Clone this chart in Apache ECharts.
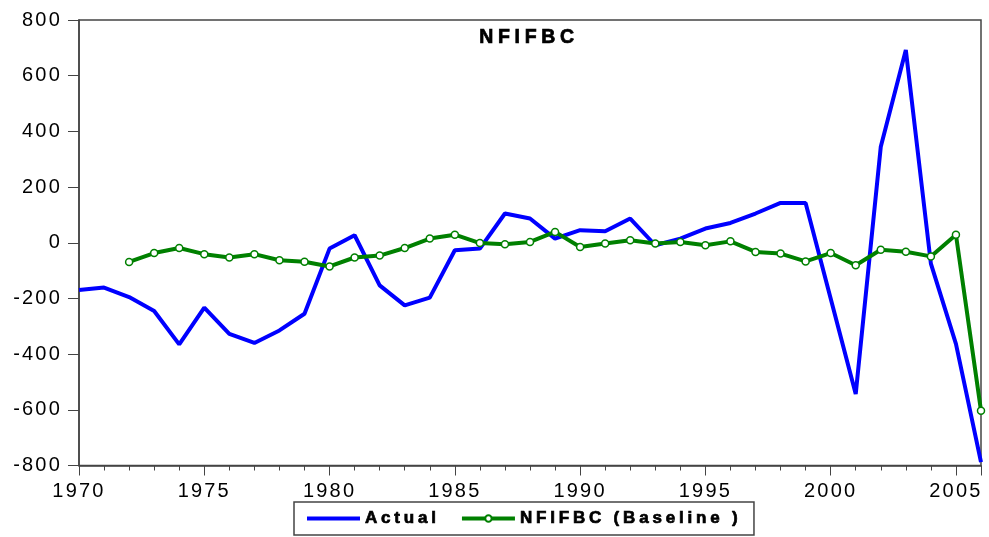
<!DOCTYPE html>
<html><head><meta charset="utf-8">
<script src="https://cdn.jsdelivr.net/npm/echarts@6/dist/echarts.min.js"></script>
<style>html,body{margin:0;padding:0;background:#fff}#c{width:989px;height:537px}</style>
</head><body><div id="c"></div>
<script>
const years = [1970,1971,1972,1973,1974,1975,1976,1977,1978,1979,1980,1981,1982,1983,1984,1985,1986,1987,1988,1989,1990,1991,1992,1993,1994,1995,1996,1997,1998,1999,2000,2001,2002,2003,2004,2005,2006];
const actual = [-170,-161,-195,-245,-365,-233,-327,-360,-315,-255,-21,27,-153,-225,-197,-27,-21,105,87,15,45,41,87,-9,15,51,71,105,143,143,-200,-543,345,692,-75,-363,-788];
const baseline = [null,null,-69,-37,-19,-41,-53,-41,-63,-68,-85,-53,-46,-19,15,29,-1,-5,3,39,-15,-3,9,-3,3,-9,5,-33,-39,-67,-37,-81,-25,-32,-49,29,-603];
const yTicks = [-800,-600,-400,-200,0,200,400,600,800];
const titleText = 'NFIFBC';
const seriesNames = ['Actual','NFIFBC (Baseline )'];
const font = 'Arial, "Liberation Sans", sans-serif';

// the reference text is drawn wide: add letter spacing per text style when painting
(function(){
  const P = CanvasRenderingContext2D.prototype;
  if (!('letterSpacing' in P)) return;
  const orig = P.fillText;
  P.fillText = function(text, x, y, mw){
    const f = this.font || '';
    const m = f.match(/([\d.]+)px/);
    const size = m ? parseFloat(m[1]) : 0;
    const bold = /bold|700/.test(f);
    let ls = '0px';
    if (bold && size >= 19) ls = '4.7px';
    else if (bold && size >= 16.5) ls = '3.8px';
    else if (!bold && size >= 19.5) ls = '2.2px';
    this.letterSpacing = ls;
    this.font = f;
    const r = mw === undefined ? orig.call(this, text, x, y) : orig.call(this, text, x, y, mw);
    if (bold && ls !== '0px') {
      const lw = this.lineWidth, ss = this.strokeStyle;
      this.lineWidth = 0.7; this.strokeStyle = this.fillStyle;
      this.strokeText(text, x, y);
      this.lineWidth = lw; this.strokeStyle = ss;
    }
    this.letterSpacing = '0px';
    return r;
  };
})();

const chart = echarts.init(document.getElementById('c'));
chart.setOption({
  animation:false,
  backgroundColor:'#fff',
  title:{text:titleText, left:524, textAlign:'center', top:23,
    textStyle:{fontFamily:font, fontSize:19.5, fontWeight:'bold', color:'#000'}},
  grid:{left:79, right:8, top:20, bottom:71.5, show:true, borderColor:'#444', borderWidth:1.5, backgroundColor:'transparent'},
  legend:{left:294, top:502, padding:[8,81,8,11],
    borderColor:'#444', borderWidth:1.5, itemWidth:53, itemHeight:8, itemGap:43,
    lineStyle:{width:4},
    data:[
      {name:seriesNames[0], itemStyle:{color:'transparent', borderWidth:0}},
      {name:seriesNames[1]}
    ],
    textStyle:{fontFamily:font, fontSize:17, fontWeight:'bold', color:'#000'}},
  xAxis:{type:'value', min:1970, max:2006, interval:5,
    axisLine:{onZero:false, lineStyle:{color:'#444', width:1.5}},
    axisTick:{show:true, length:10, lineStyle:{color:'#444'}},
    minorTick:{show:true, splitNumber:5, length:5, lineStyle:{color:'#444'}},
    splitLine:{show:false},
    axisLabel:{showMaxLabel:false, margin:16, fontFamily:font, fontSize:20, color:'#000',
      formatter:v=>String(v)}},
  yAxis:{type:'value', min:yTicks[0], max:yTicks[yTicks.length-1], interval:200,
    axisLine:{show:true, lineStyle:{color:'#444', width:1.5}},
    axisTick:{show:true, length:11, lineStyle:{color:'#444'}},
    splitLine:{show:false},
    axisLabel:{margin:17, fontFamily:font, fontSize:20, color:'#000'}},
  series:[
    {name:seriesNames[0], type:'line', data:years.map((y,i)=>[y,actual[i]]),
      symbol:'none', lineStyle:{color:'#0000ff', width:4}, itemStyle:{color:'#0000ff'}},
    {name:seriesNames[1], type:'line', data:years.map((y,i)=>[y,baseline[i]]),
      symbol:'circle', symbolSize:7, showSymbol:true,
      lineStyle:{color:'#008000', width:4},
      itemStyle:{color:'#ffffff', borderColor:'#008000', borderWidth:1.5}}
  ]
});
</script></body></html>
